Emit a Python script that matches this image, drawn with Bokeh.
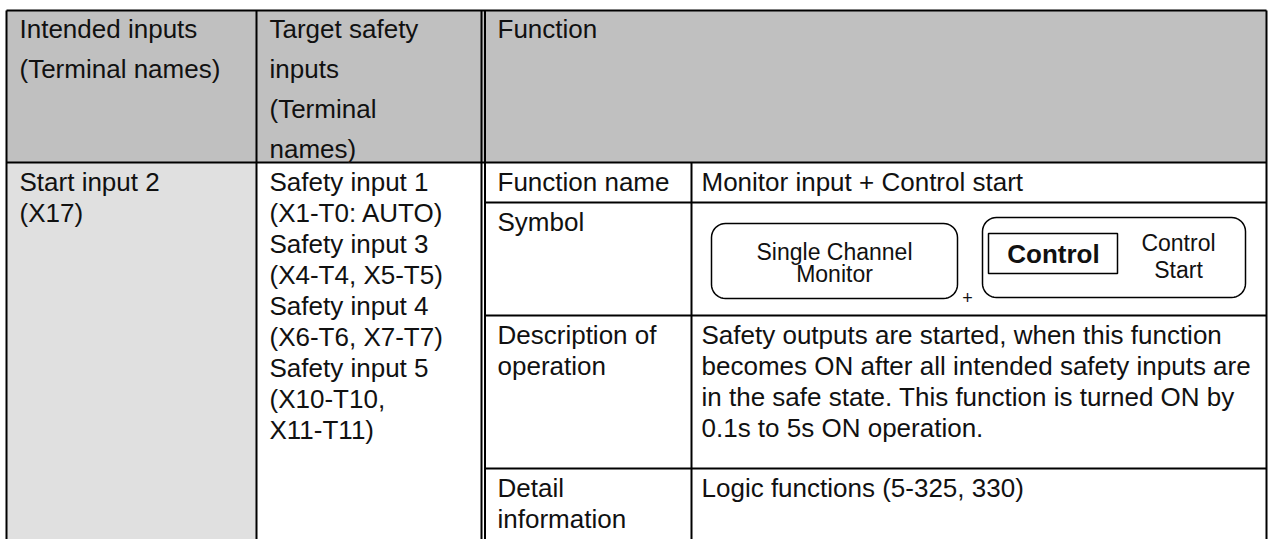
import numpy as np
from bokeh.plotting import figure
from bokeh.models import Range1d
from bokeh.core.properties import value
from bokeh.embed import file_html
from bokeh.resources import INLINE

# ---------------- data (table texts) ----------------
header_col1 = ["Intended inputs", "(Terminal names)"]
header_col2 = ["Target safety", "inputs", "(Terminal", "names)"]
header_col3 = ["Function"]
input_lines = ["Start input 2", "(X17)"]
target_lines = ["Safety input 1", "(X1-T0: AUTO)", "Safety input 3", "(X4-T4, X5-T5)",
                "Safety input 4", "(X6-T6, X7-T7)", "Safety input 5", "(X10-T10,", "X11-T11)"]
row_labels = [["Function name"], ["Symbol"], ["Description of", "operation"], ["Detail", "information"]]
row_values = [["Monitor input + Control start"],
              [],
              ["Safety outputs are started, when this function",
               "becomes ON after all intended safety inputs are",
               "in the safe state. This function is turned ON by",
               "0.1s to 5s ON operation."],
              ["Logic functions (5-325, 330)"]]
symbol_left = ["Single Channel", "Monitor"]
symbol_bold = ["Control"]
symbol_right = ["Control", "Start"]
symbol_join = ["+"]

# ---------------- layout (reference pixel coordinates) ----------------
X_L, X_C1, X_D1, X_D2, X_C3, X_R = 6, 256, 481, 484.5, 691, 1266
Y_T, Y_H, Y_B = 10, 162, 600
row_bottoms = [202, 315, 468]
row_tops = [Y_H, 202, 315, 468]
FONT = value("Liberation Sans")
FS = "26px"
LH = 31.1          # body line height
HLH = 40.0         # header line height
PAD_Y = 19         # text centre below row top

W, H = 1272, 539
p = figure(width=W, height=H, output_backend="svg", toolbar_location=None,
           x_range=Range1d(0, W), y_range=Range1d(H, 0),
           min_border=0, background_fill_color="white", border_fill_color="white")
p.xaxis.visible = False
p.yaxis.visible = False
p.grid.visible = False
p.outline_line_color = None

# fills
p.quad(left=[X_L], right=[X_R], top=[Y_T], bottom=[Y_H], fill_color="#c0c0c0", line_color=None)
p.quad(left=[X_L], right=[X_C1], top=[Y_H], bottom=[Y_B], fill_color="#e0e0e0", line_color=None)

# grid lines
lw = 2
segs_x0 = [X_L, X_L, X_R, X_C1, X_D1, X_D2, X_C3]
segs_x1 = [X_R, X_L, X_R, X_C1, X_D1, X_D2, X_C3]
segs_y0 = [Y_T, Y_T, Y_T, Y_T, Y_T, Y_T, Y_H]
segs_y1 = [Y_T, Y_B, Y_B, Y_B, Y_B, Y_B, Y_B]
p.segment(x0=segs_x0, y0=segs_y0, x1=segs_x1, y1=segs_y1, line_color="black", line_width=lw)
p.segment(x0=[X_L], y0=[Y_H], x1=[X_R], y1=[Y_H], line_color="black", line_width=lw)
p.segment(x0=[X_D2] * len(row_bottoms), y0=row_bottoms, x1=[X_R] * len(row_bottoms), y1=row_bottoms,
          line_color="black", line_width=lw)


def add_lines(lines, x, y0, lh, **kw):
    if not lines:
        return
    ys = [y0 + i * lh for i in range(len(lines))]
    p.text(x=[x] * len(lines), y=ys, text=lines, text_font=kw.get("font", FONT),
           text_font_size=kw.get("size", FS), text_baseline="middle",
           text_align=kw.get("align", "left"), text_color="#111111",
           text_font_style=kw.get("style", "normal"))


TX1, TX2, TX3, TX4 = 19, 269, 497, 701
add_lines(header_col1, TX1, Y_T + 18, HLH)
add_lines(header_col2, TX2, Y_T + 18, HLH)
add_lines(header_col3, TX3, Y_T + 18, HLH)
add_lines(input_lines, TX1, Y_H + PAD_Y, LH)
add_lines(target_lines, TX2, Y_H + PAD_Y, LH)
for top, lab, val in zip(row_tops, row_labels, row_values):
    add_lines(lab, TX3, top + PAD_Y, LH)
    add_lines(val, TX4, top + PAD_Y, LH)


# symbol graphics
def rrect(x0, y0, x1, y1, r, n=10):
    xs, ys = [], []
    corners = [(x1 - r, y0 + r, -np.pi / 2, 0), (x1 - r, y1 - r, 0, np.pi / 2),
               (x0 + r, y1 - r, np.pi / 2, np.pi), (x0 + r, y0 + r, np.pi, 1.5 * np.pi)]
    for cx, cy, a0, a1 in corners:
        t = np.linspace(a0, a1, n)
        xs.extend(cx + r * np.cos(t))
        ys.extend(cy + r * np.sin(t))
    return xs, ys


b1 = rrect(711, 223, 957, 298, 14)
b2 = rrect(982, 217, 1245, 297, 14)
p.patch(b1[0], b1[1], fill_color=None, line_color="black", line_width=1.5)
p.patch(b2[0], b2[1], fill_color=None, line_color="black", line_width=1.5)
p.quad(left=[988], right=[1117], top=[233], bottom=[273], fill_color=None, line_color="black", line_width=1.5)

add_lines(symbol_left, 834, 251, 22, size="23px", align="center")
add_lines(symbol_bold, 1053, 253, 0, size="26px", align="center", style="bold")
add_lines(symbol_right, 1178, 242, 27, size="23px", align="center")
add_lines(symbol_join, 967, 297, 0, size="18px", align="center")

open("out.html", "w").write(file_html(p, INLINE))
